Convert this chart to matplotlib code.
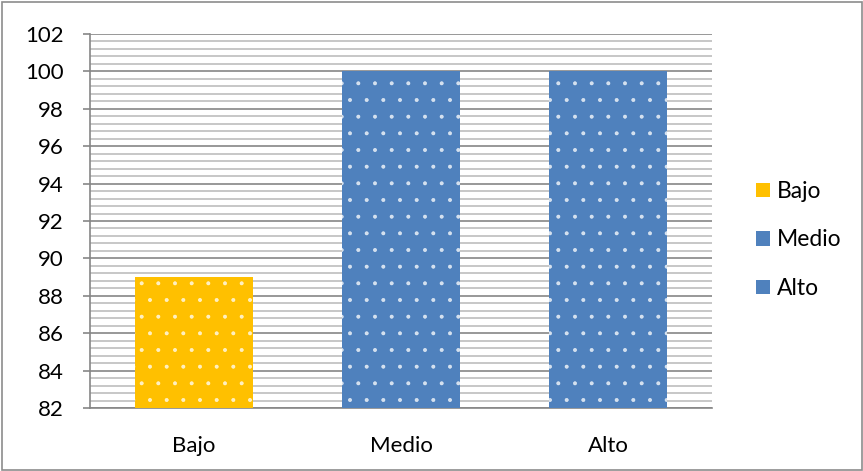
import matplotlib
matplotlib.use("Agg")
import matplotlib.pyplot as plt
from matplotlib.patches import Rectangle, Patch
from matplotlib.ticker import MultipleLocator

categories = ["Bajo", "Medio", "Alto"]
values = [89, 100, 100]
colors = ["#FFC000", "#4F81BD", "#4F81BD"]
y_ticks = [82, 84, 86, 88, 90, 92, 94, 96, 98, 100, 102]

plt.rcParams["font.family"] = ["Lato", "DejaVu Sans"]
plt.rcParams["hatch.linewidth"] = 0.4

fig = plt.figure(figsize=(8.63, 4.71), dpi=100)
ax = fig.add_axes([90 / 863, 1 - 408 / 471, (712 - 90) / 863, (408 - 34) / 471])

ax.set_ylim(y_ticks[0], y_ticks[-1])
ax.set_xlim(-0.5, len(categories) - 0.5)
ax.yaxis.set_minor_locator(MultipleLocator(0.4))
ax.set_yticks(y_ticks)
ax.grid(which="major", axis="y", color="#868686", linewidth=1.2)
ax.grid(which="minor", axis="y", color="#BEBEBE", linewidth=1.2)
ax.set_axisbelow(True)

x = list(range(len(categories)))
heights = [v - y_ticks[0] for v in values]
# soft white dotted texture on the bars: edge colour drives the hatch colour
bars = ax.bar(x, heights, bottom=y_ticks[0], width=0.57,
              color=colors, edgecolor=(1, 1, 1, 0.75), linewidth=0, hatch=".", zorder=3)

ax.set_xticks(x)
ax.set_xticklabels(categories)
ax.tick_params(axis="x", length=0, labelsize=16, pad=20)
ax.tick_params(axis="y", which="major", length=5, width=1.2, color="#868686",
               labelsize=16, pad=14)
ax.tick_params(axis="y", which="minor", length=0)

for side in ["top", "right"]:
    ax.spines[side].set_visible(False)
for side in ["left", "bottom"]:
    ax.spines[side].set_color("#868686")
    ax.spines[side].set_linewidth(1.2)

handles = [Patch(facecolor=c, edgecolor="none", label=l) for c, l in zip(colors, categories)]
fig.legend(handles=handles, loc="center left", bbox_to_anchor=(756 / 863, 1 - 240 / 471),
           frameon=False, fontsize=16.5, handlelength=0.62, handleheight=0.6,
           handletextpad=0.3, labelspacing=1.2, borderpad=0, borderaxespad=0)

fig.patches.append(Rectangle((1.5 / 863, 1.5 / 471), 1 - 3 / 863, 1 - 3 / 471,
                             transform=fig.transFigure, fill=False,
                             edgecolor="#8C8C8C", linewidth=1.2))

fig.savefig("out.png", dpi=100)
